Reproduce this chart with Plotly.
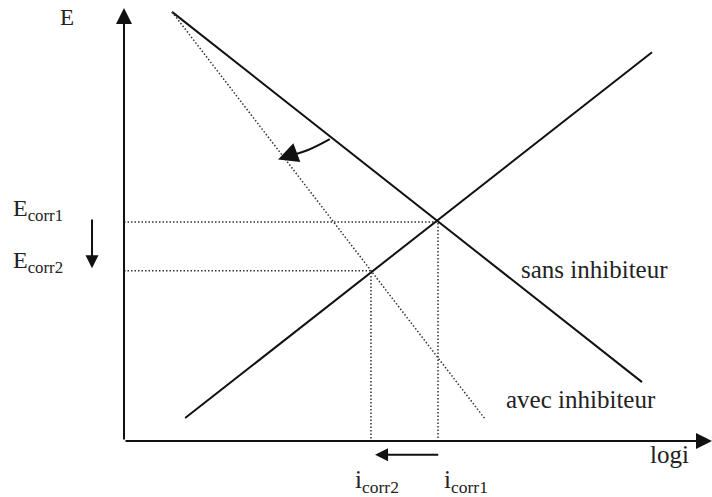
import plotly.graph_objects as go

# Evans diagram, abstract units: logi on x, E on y (axes cross at 0, 0)
cath_x = [0.816, 8.81]        # sans inhibiteur (cathodic)
cath_y = [9.91, 1.36]
anod_x = [1.04, 8.98]         # anodic branch
anod_y = [0.53, 8.98]
inhib_x = [0.816, 6.14]       # avec inhibiteur
inhib_y = [9.91, 0.51]

e_corr = [5.06, 3.93]         # Ecorr1, Ecorr2
i_corr = [5.34, 4.20]         # icorr1, icorr2

# curved arrow (cathodic line rotating)
turn_x = [3.50, 3.13, 2.74]
turn_y = [6.97, 6.72, 6.56]

INK = "#111111"
FONT = "Liberation Serif"

fig = go.Figure()

fig.add_trace(go.Scatter(x=cath_x, y=cath_y, mode="lines",
                         line=dict(color=INK, width=2), cliponaxis=False))
fig.add_trace(go.Scatter(x=anod_x, y=anod_y, mode="lines",
                         line=dict(color=INK, width=2), cliponaxis=False))
fig.add_trace(go.Scatter(x=inhib_x, y=inhib_y, mode="lines",
                         line=dict(color="#333333", width=1.5, dash="1.5px,2px"),
                         cliponaxis=False))

# dotted guides to Ecorr / icorr
for e, i in zip(e_corr, i_corr):
    fig.add_trace(go.Scatter(x=[0, i, i], y=[e, e, 0], mode="lines",
                             line=dict(color="#333333", width=1.5, dash="1.5px,2px"),
                             cliponaxis=False))

fig.add_trace(go.Scatter(x=turn_x, y=turn_y, mode="lines",
                         line=dict(color=INK, width=2, shape="spline"),
                         cliponaxis=False))

# arrows: (tip_x, tip_y, tail_x, tail_y, size)
arrows = [
    (0, 10.0, 0, 0, 1.6),          # E axis
    (10.0, 0, 0, 0, 1.6),          # logi axis
    (-0.544, 3.99, -0.544, 5.15, 1.3),   # Ecorr shift
    (4.27, -0.32, 5.37, -0.32, 1.3),     # icorr shift
    (2.62, 6.50, 2.74, 6.56, 2.0),       # curved arrow head
]
for tx, ty, sx, sy, sz in arrows:
    fig.add_annotation(x=tx, y=ty, ax=sx, ay=sy, xref="x", yref="y",
                       axref="x", ayref="y", text="", showarrow=True,
                       arrowhead=2, arrowsize=sz, arrowwidth=2, arrowcolor=INK)

labels = [
    ("E", -0.97, 9.77, "center", 23),
    ("E<sub>corr1</sub>", -1.92, 5.33, "left", 24),
    ("E<sub>corr2</sub>", -1.92, 4.13, "left", 24),
    ("sans inhibiteur", 8.0, 3.95, "center", 25),
    ("avec inhibiteur", 7.78, 0.97, "center", 25),
    ("logi", 9.27, -0.32, "center", 25),
    ("i<sub>corr2</sub>", 3.90, -0.93, "left", 25),
    ("i<sub>corr1</sub>", 5.40, -0.93, "left", 25),
]
for txt, x, y, anchor, size in labels:
    fig.add_annotation(x=x, y=y, xref="x", yref="y", text=txt, showarrow=False,
                       xanchor=anchor, yanchor="middle",
                       font=dict(family=FONT, size=size, color="#222222"))

fig.update_layout(
    width=712, height=497,
    margin=dict(l=0, r=0, t=0, b=0),
    paper_bgcolor="white", plot_bgcolor="white",
    showlegend=False,
    xaxis=dict(range=[-2.109, 10.0], visible=False, fixedrange=True),
    yaxis=dict(range=[-1.293, 10.185], visible=False, fixedrange=True),
)

fig.write_html("out.html", config={"displayModeBar": False},
               post_script="document.body.style.margin='0';")
